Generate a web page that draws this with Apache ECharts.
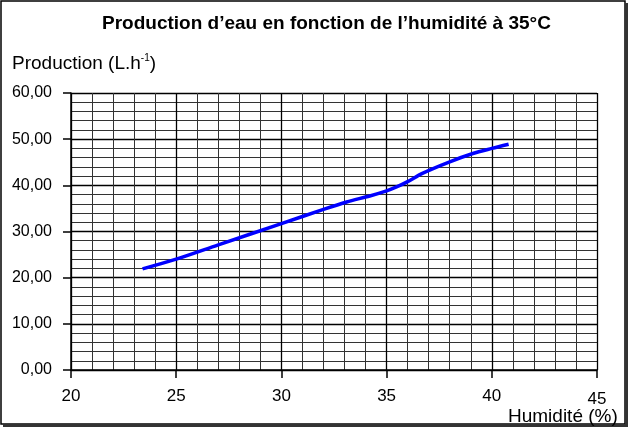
<!DOCTYPE html>
<html><head><meta charset="utf-8">
<script src="https://cdn.jsdelivr.net/npm/echarts@6/dist/echarts.min.js"></script>
<style>html,body{margin:0;padding:0;background:#fff}#c{width:630px;height:430px}</style>
</head><body><div id="c"></div>
<script>
const humidity = [23.4, 25, 27, 30, 32, 33.1, 34.2, 35, 35.5, 36, 36.7, 38, 39.1, 40, 40.8];
const production = [21.9, 24.0, 27.1, 31.7, 34.8, 36.4, 37.7, 38.8, 39.7, 40.8, 42.6, 45.1, 46.9, 48.0, 48.9];
const xTicks = [20, 25, 30, 35, 40, 45];
const yTicks = [0, 10, 20, 30, 40, 50, 60];

const chart = echarts.init(document.getElementById('c'));
const font = '"Liberation Sans", Arial, sans-serif';
chart.setOption({
  animation: false,
  backgroundColor: '#fff',
  title: [
    { text: "Production d\u2019eau en fonction de l\u2019humidit\u00e9 \u00e0 35\u00b0C", left: 102, top: 14, padding: 0,
      textStyle: { fontFamily: font, fontWeight: 'bold', fontSize: 19, color: '#000' } },
    { text: '{a|Production (L.h}{s|-1}{a|)}', left: 12, top: 53, padding: 0,
      textStyle: { fontWeight: 'normal', rich: {
        a: { fontFamily: font, fontSize: 19, fontWeight: 'normal', color: '#000', lineHeight: 22 },
        s: { fontFamily: font, fontSize: 10, fontWeight: 'normal', color: '#000', verticalAlign: 'top', lineHeight: 22, padding: [0, 0, 10, 0] } } } },
    { text: 'Humidit\u00e9 (%)', left: 508, top: 407, padding: 0,
      textStyle: { fontFamily: font, fontWeight: 'normal', fontSize: 19, color: '#000' } }
  ],
  graphic: [
    { type: 'rect', shape: { x: 1, y: 1, width: 624, height: 423 }, style: { fill: 'none', stroke: '#000', lineWidth: 1.5 } },
    { type: 'rect', shape: { x: 625, y: 3, width: 3, height: 424 }, style: { fill: '#333' } },
    { type: 'rect', shape: { x: 3, y: 424, width: 625, height: 3 }, style: { fill: '#333' } }
  ],
  grid: { left: 71, right: 33, top: 93, bottom: 60, containLabel: false },
  xAxis: {
    type: 'value', min: xTicks[0], max: xTicks[xTicks.length - 1], interval: 5,
    axisLine: { show: true, onZero: false, lineStyle: { color: '#000', width: 1.5 } },
    axisTick: { show: true, length: 8, lineStyle: { color: '#000', width: 1.5 } },
    axisLabel: { fontFamily: font, fontSize: 17, color: '#000', margin: 18,
      formatter: v => v === 45 ? '{b|45}' : String(v),
      rich: { b: { fontFamily: font, fontSize: 17, color: '#000', padding: [3, 0, 0, 0] } } },
    splitLine: { show: true, lineStyle: { color: '#000', width: 1.3 } },
    minorTick: { show: false, splitNumber: 5 },
    minorSplitLine: { show: true, lineStyle: { color: '#333', width: 1 } }
  },
  yAxis: {
    type: 'value', min: yTicks[0], max: yTicks[yTicks.length - 1], interval: 10,
    axisLine: { show: true, lineStyle: { color: '#000', width: 1.5 } },
    axisTick: { show: true, length: 8, lineStyle: { color: '#000', width: 1.5 } },
    axisLabel: { fontFamily: font, fontSize: 16, color: '#000', margin: 19,
      formatter: v => v.toFixed(2).replace('.', ',') },
    splitLine: { show: true, lineStyle: { color: '#000', width: 1.3 } },
    minorTick: { show: false, splitNumber: 5 },
    minorSplitLine: { show: true, lineStyle: { color: '#333', width: 1 } }
  },
  series: [{
    type: 'line', data: humidity.map((h, i) => [h, production[i]]),
    smooth: 0.3, showSymbol: false,
    lineStyle: { color: '#0000ff', width: 3.5 }
  }]
});
</script></body></html>
